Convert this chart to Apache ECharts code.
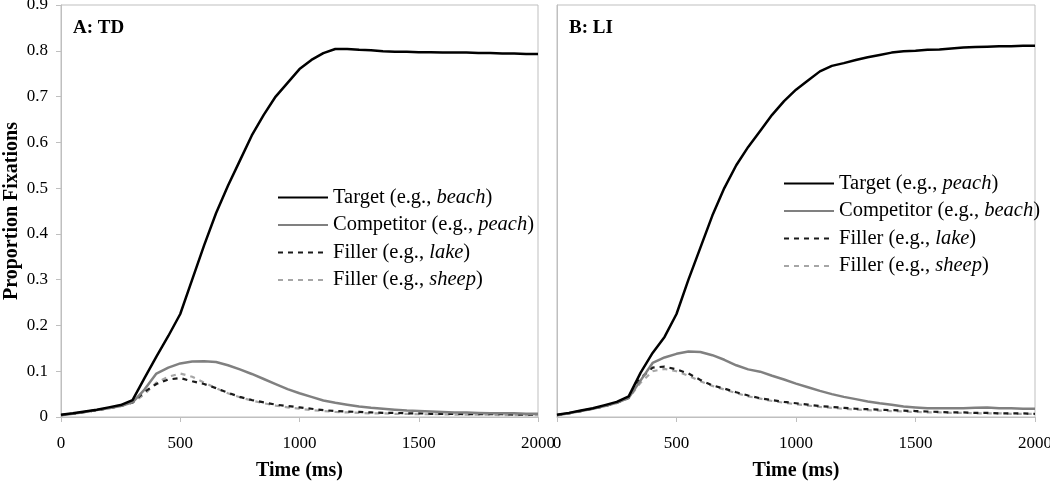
<!DOCTYPE html>
<html>
<head>
<meta charset="utf-8">
<script src="https://cdn.jsdelivr.net/npm/echarts@6/dist/echarts.min.js"></script>
<style>html,body{margin:0;padding:0;background:#fff}#c{width:1050px;height:481px}</style>
</head>
<body>
<div id="c"></div>
<script>
var times = [0,50,100,150,200,250,300,350,400,450,500,550,600,650,700,750,800,850,900,950,1000,1050,1100,1150,1200,1250,1300,1350,1400,1450,1500,1550,1600,1650,1700,1750,1800,1850,1900,1950,2000];

var tdTarget = [0.005,0.008,0.012,0.016,0.021,0.026,0.037,0.085,0.132,0.177,0.225,0.300,0.375,0.445,0.505,0.560,0.615,0.660,0.700,0.730,0.760,0.780,0.795,0.804,0.804,0.802,0.801,0.799,0.798,0.798,0.797,0.797,0.796,0.796,0.796,0.795,0.795,0.794,0.794,0.793,0.793];
var tdCompetitor = [0.004,0.007,0.011,0.015,0.019,0.024,0.032,0.060,0.095,0.108,0.117,0.121,0.122,0.120,0.113,0.104,0.094,0.083,0.072,0.061,0.052,0.044,0.036,0.031,0.027,0.023,0.020,0.018,0.016,0.014,0.013,0.012,0.011,0.010,0.010,0.009,0.008,0.008,0.008,0.007,0.007];
var tdFillerLake = [0.004,0.007,0.011,0.015,0.019,0.024,0.032,0.055,0.072,0.082,0.085,0.078,0.072,0.063,0.053,0.044,0.037,0.032,0.027,0.024,0.021,0.018,0.015,0.013,0.012,0.011,0.010,0.009,0.009,0.008,0.008,0.007,0.007,0.007,0.006,0.006,0.006,0.006,0.005,0.005,0.005];
var tdFillerSheep = [0.004,0.007,0.011,0.015,0.019,0.024,0.031,0.050,0.075,0.088,0.095,0.088,0.075,0.063,0.052,0.043,0.036,0.030,0.025,0.021,0.018,0.015,0.013,0.011,0.010,0.009,0.008,0.008,0.007,0.007,0.006,0.006,0.006,0.005,0.005,0.005,0.005,0.004,0.004,0.004,0.004];

var liTarget = [0.005,0.009,0.014,0.019,0.026,0.033,0.045,0.097,0.140,0.175,0.225,0.300,0.370,0.440,0.500,0.550,0.590,0.625,0.660,0.690,0.715,0.735,0.755,0.767,0.773,0.780,0.786,0.791,0.796,0.799,0.800,0.802,0.803,0.805,0.807,0.808,0.809,0.810,0.810,0.811,0.811];
var liCompetitor = [0.004,0.008,0.013,0.018,0.024,0.031,0.042,0.080,0.118,0.130,0.138,0.143,0.142,0.135,0.125,0.113,0.104,0.099,0.090,0.082,0.073,0.065,0.057,0.050,0.044,0.039,0.034,0.030,0.027,0.023,0.021,0.019,0.019,0.019,0.019,0.020,0.021,0.019,0.019,0.018,0.018];
var liFillerLake = [0.004,0.008,0.013,0.018,0.024,0.031,0.042,0.085,0.108,0.110,0.104,0.095,0.081,0.069,0.062,0.054,0.047,0.041,0.037,0.033,0.030,0.027,0.024,0.022,0.020,0.018,0.017,0.016,0.015,0.014,0.013,0.012,0.011,0.010,0.010,0.009,0.009,0.008,0.008,0.008,0.007];
var liFillerSheep = [0.004,0.008,0.013,0.018,0.024,0.031,0.041,0.075,0.100,0.105,0.100,0.090,0.078,0.068,0.060,0.052,0.045,0.040,0.035,0.031,0.028,0.025,0.022,0.020,0.018,0.016,0.015,0.014,0.013,0.012,0.011,0.010,0.010,0.009,0.009,0.008,0.008,0.008,0.007,0.007,0.007];

var xTicks = [0,500,1000,1500,2000];
var yTicks = [0,0.1,0.2,0.3,0.4,0.5,0.6,0.7,0.8,0.9];
var panelTitles = ['A: TD','B: LI'];
var legendA = [['Target (e.g., ','beach',')'],['Competitor (e.g., ','peach',')'],['Filler (e.g., ','lake',')'],['Filler (e.g., ','sheep',')']];
var legendB = [['Target (e.g., ','peach',')'],['Competitor (e.g., ','beach',')'],['Filler (e.g., ','lake',')'],['Filler (e.g., ','sheep',')']];
var xName = 'Time (ms)';
var yName = 'Proportion Fixations';

var serif = 'Liberation Serif';
var styles = [
  {color:'#000000', width:2.5, type:'solid'},
  {color:'#808080', width:2.5, type:'solid'},
  {color:'#1a1a1a', width:2.2, type:[5,5]},
  {color:'#a6a6a6', width:2.2, type:[5,5]}
];
function pairs(arr){ return times.map(function(t,i){ return [t, arr[i]]; }); }
var dataA = [tdTarget, tdCompetitor, tdFillerLake, tdFillerSheep];
var dataB = [liTarget, liCompetitor, liFillerLake, liFillerSheep];

var labelMap = {};
var series = [];
function addSeries(prefix, datas, labels, idx){
  datas.forEach(function(d,i){
    var nm = prefix + i;
    labelMap[nm] = labels[i];
    series.push({
      name: nm, type:'line', xAxisIndex: idx, yAxisIndex: idx,
      data: pairs(d), symbol:'none', showSymbol:false, smooth:false,
      lineStyle: {color: styles[i].color, width: styles[i].width, type: styles[i].type},
      itemStyle: {color: styles[i].color},
      z: 10 - i, animation:false
    });
  });
}
addSeries('A', dataA, legendA, 0);
addSeries('B', dataB, legendB, 1);

function legendFmt(name){
  var l = labelMap[name];
  return '{n|' + l[0] + '}{i|' + l[1] + '}{n|' + l[2] + '}';
}
var rich = {
  n:{fontFamily:serif, fontSize:20.5, color:'#000'},
  i:{fontFamily:serif, fontSize:20.5, fontStyle:'italic', color:'#000'}
};
function legend(prefix, left, top){
  return {
    orient:'vertical', left:left, top:top, padding:0, itemGap:6.5,
    itemWidth:50, itemHeight:14, selectedMode:false,
    itemStyle:{color:'rgba(0,0,0,0)', borderWidth:0, opacity:0},
    data:[0,1,2,3].map(function(i){ return prefix+i; }),
    formatter: legendFmt,
    textStyle:{rich:rich, fontFamily:serif, fontSize:20.5, color:'#000'}
  };
}

var axisGray = '#bfbfbf';
function xAxis(idx){
  return {
    type:'value', gridIndex:idx, min:0, max:2000, interval:500,
    name: xName, nameLocation:'middle', nameGap:44,
    nameTextStyle:{fontFamily:serif, fontSize:20, fontWeight:'bold', color:'#000'},
    axisLine:{show:true, lineStyle:{color:axisGray}},
    axisTick:{show:true, inside:false, length:5, lineStyle:{color:axisGray}},
    axisLabel:{fontFamily:serif, fontSize:17, color:'#000', margin:18,
      formatter:function(v){ return xTicks.indexOf(v) >= 0 ? String(v) : ''; }},
    splitLine:{show:false}
  };
}
function yAxis(idx, showLabels){
  return {
    type:'value', gridIndex:idx, min:0, max:0.9, interval:0.1,
    name: showLabels ? yName : '', nameLocation:'middle', nameGap:39,
    nameTextStyle:{fontFamily:serif, fontSize:20, fontWeight:'bold', color:'#000'},
    axisLine:{show:true, lineStyle:{color:axisGray}},
    axisTick:{show:showLabels, inside:false, length:5, lineStyle:{color:axisGray}},
    axisLabel:{show:showLabels, fontFamily:serif, fontSize:17, color:'#000', margin:13,
      formatter:function(v){ var r = Math.round(v*10)/10; return yTicks.indexOf(r) >= 0 ? (r===0?'0':r.toFixed(1)) : ''; }},
    splitLine:{show:false}
  };
}

var chart = echarts.init(document.getElementById('c'), null, {renderer:'canvas'});
chart.setOption({
  animation:false,
  backgroundColor:'#ffffff',
  title:[
    {text:panelTitles[0], left:73, top:19, padding:0, textStyle:{fontFamily:serif, fontSize:19, fontWeight:'bold', color:'#000'}},
    {text:panelTitles[1], left:569, top:19, padding:0, textStyle:{fontFamily:serif, fontSize:19, fontWeight:'bold', color:'#000'}}
  ],
  grid:[
    {left:61, width:477, top:5, height:412, show:true, borderColor:axisGray, borderWidth:1, backgroundColor:'transparent', containLabel:false, outerBoundsMode:'none'},
    {left:557, width:478, top:5, height:412, show:true, borderColor:axisGray, borderWidth:1, backgroundColor:'transparent', containLabel:false, outerBoundsMode:'none'}
  ],
  xAxis:[xAxis(0), xAxis(1)],
  yAxis:[yAxis(0,true), yAxis(1,false)],
  legend:[legend('A', 277, 187), legend('B', 783, 173)],
  series: series
});
</script>
</body>
</html>
